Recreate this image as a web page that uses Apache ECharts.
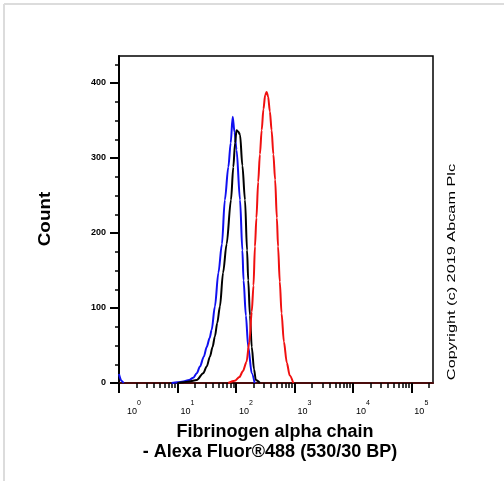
<!DOCTYPE html>
<html><head><meta charset="utf-8">
<script src="https://cdn.jsdelivr.net/npm/echarts@6/dist/echarts.min.js"></script>
<style>html,body{margin:0;padding:0;background:#fff;overflow:hidden}#c{width:504px;height:481px}</style>
</head><body><div id="c"></div>
<script>
// x values are log10 of fluorescence intensity, y values are counts
const decadeTicks = [0, 1, 2, 3, 4, 5];
const decadeMinorMultipliers = [2, 3, 4, 5, 6, 7, 8, 9];
const yMajorTicks = [0, 100, 200, 300, 400];
const yMinorTicks = [25, 50, 75, 125, 150, 175, 225, 250, 275, 325, 350, 375, 425];
const xMaxLog = 5.37;
const yMax = 436;

const blueSeries = [[0,12],[0.04,3],[0.08,0],[0.5,'-'],[0.9,0],[1.0,1],[1.1,2],[1.2,4],[1.27,7],[1.33,13],[1.385,22],[1.45,35],[1.5,48],[1.55,60],[1.585,71],[1.64,102],[1.70,147],[1.76,185],[1.81,244],[1.87,288],[1.91,320],[1.944,355],[1.975,335],[2.01,311],[2.07,244],[2.11,177],[2.13,137],[2.17,90],[2.21,48],[2.27,13],[2.32,0]];
const blackSeries = [[1.0,0],[1.1,1],[1.2,2],[1.33,4],[1.44,13],[1.5,22],[1.555,35],[1.6,48],[1.64,62],[1.68,80],[1.726,102],[1.78,147],[1.84,185],[1.915,244],[1.955,288],[1.985,320],[2.01,337],[2.04,335],[2.07,331],[2.11,290],[2.155,244],[2.19,177],[2.21,137],[2.24,90],[2.27,48],[2.31,18],[2.34,4],[2.41,0]];
const redSeries = [[1.87,0],[1.98,3],[2.06,8],[2.12,16],[2.18,28],[2.23,55],[2.27,95],[2.30,130],[2.325,182],[2.35,220],[2.38,268],[2.41,305],[2.44,337],[2.47,365],[2.50,384],[2.525,388],[2.55,382],[2.58,362],[2.61,337],[2.64,305],[2.67,271],[2.70,220],[2.72,182],[2.75,135],[2.78,93],[2.82,55],[2.87,27],[2.92,10],[2.98,0]];

const xMinorTicks = [];
decadeTicks.forEach(d => decadeMinorMultipliers.forEach(m => {
  const v = d + Math.log10(m);
  if (v < xMaxLog) xMinorTicks.push(v);
}));

const FF = '"Liberation Sans", Arial, sans-serif';
const chart = echarts.init(document.getElementById('c'), null, {renderer: 'canvas'});
const lineSeries = (data, color) => ({
  type: 'line', data: data, showSymbol: false, smooth: 0.3, smoothMonotone: 'x', connectNulls: false,
  lineStyle: {color: color, width: 2}, itemStyle: {color: color}, animation: false, silent: true
});
chart.setOption({
  animation: false,
  grid: {left: 119, top: 56, right: 71, bottom: 98, show: true, borderColor: '#000', borderWidth: 1.5},
  xAxis: [
    {type: 'value', min: 0, max: xMaxLog, position: 'bottom',
     axisLine: {show: true, onZero: false, lineStyle: {color: '#4a0c0c', width: 2}},
     axisTick: {show: true, customValues: decadeTicks, length: 10, lineStyle: {color: '#000', width: 2}},
     axisLabel: {show: true, customValues: decadeTicks, margin: 17, align: 'left', padding: [0, 0, 0, 3],
       formatter: v => (Math.round(v) === 0 ? '{p|}' : '') + '{b|10}{s|' + Math.round(v) + '}',
       rich: {p: {width: 5, lineHeight: 16},
              b: {fontSize: 9, fontFamily: FF, color: '#000', lineHeight: 16, verticalAlign: 'bottom'},
              s: {fontSize: 7, fontFamily: FF, color: '#000', lineHeight: 16, verticalAlign: 'top'}}},
     splitLine: {show: false}},
    {type: 'value', min: 0, max: xMaxLog, position: 'bottom',
     axisLine: {show: false, onZero: false},
     axisTick: {show: true, customValues: xMinorTicks, length: 5, lineStyle: {color: '#000', width: 1.5}},
     axisLabel: {show: false}, splitLine: {show: false}}
  ],
  yAxis: [
    {type: 'value', min: 0, max: yMax, position: 'left',
     axisLine: {show: true, onZero: false, lineStyle: {color: '#000', width: 2}},
     axisTick: {show: true, customValues: yMajorTicks, length: 9, lineStyle: {color: '#000', width: 2}},
     axisLabel: {show: true, customValues: yMajorTicks, margin: 13, fontSize: 9, fontWeight: 'bold', fontFamily: FF, color: '#000'},
     splitLine: {show: false}},
    {type: 'value', min: 0, max: yMax, position: 'left', offset: 0,
     axisLine: {show: false, onZero: false},
     axisTick: {show: true, customValues: yMinorTicks, length: 4, lineStyle: {color: '#000', width: 1.5}},
     axisLabel: {show: false}, splitLine: {show: false}}
  ],
  series: [lineSeries(blueSeries, '#1010f0'), lineSeries(blackSeries, '#000000'), lineSeries(redSeries, '#f01010')],
  graphic: [
    {type: 'line', shape: {x1: 4, y1: 4, x2: 504, y2: 4}, style: {stroke: '#dcdcdc', lineWidth: 2}, silent: true},
    {type: 'line', shape: {x1: 4, y1: 4, x2: 4, y2: 481}, style: {stroke: '#dcdcdc', lineWidth: 2}, silent: true},
    {type: 'text', x: 46, y: 219, rotation: Math.PI / 2, scaleX: 1.18,
     style: {text: 'Count', fontSize: 16, fontWeight: 'bold', fontFamily: FF, fill: '#000', textAlign: 'center', textVerticalAlign: 'middle'}},
    {type: 'text', x: 452, y: 272, rotation: Math.PI / 2, scaleX: 1.48,
     style: {text: 'Copyright (c) 2019 Abcam Plc', fontSize: 11, fontFamily: FF, fill: '#000', textAlign: 'center', textVerticalAlign: 'middle'}},
    {type: 'text', x: 275, y: 432,
     style: {text: 'Fibrinogen alpha chain', fontSize: 18, fontWeight: 'bold', fontFamily: FF, fill: '#000', textAlign: 'center', textVerticalAlign: 'middle'}},
    {type: 'text', x: 270, y: 452,
     style: {text: '- Alexa Fluor\u00AE488 (530/30 BP)', fontSize: 18, fontWeight: 'bold', fontFamily: FF, fill: '#000', textAlign: 'center', textVerticalAlign: 'middle'}}
  ]
});
</script>
</body></html>
